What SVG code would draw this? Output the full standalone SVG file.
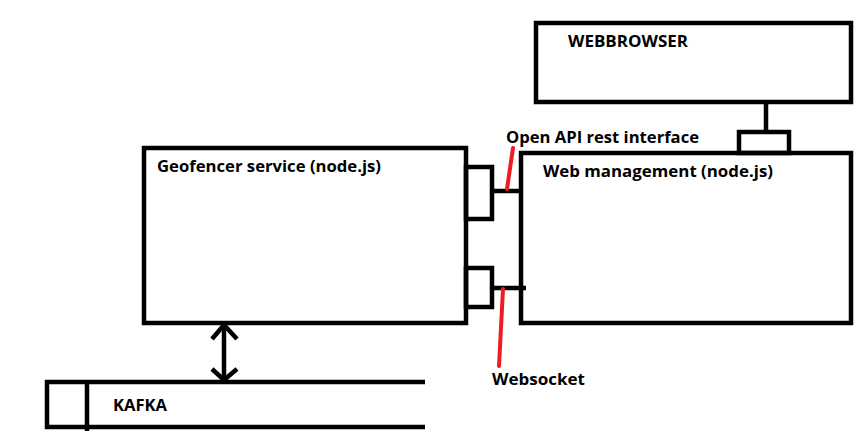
<svg xmlns="http://www.w3.org/2000/svg" width="866" height="447" viewBox="0 0 866 447">
<style>
.box{fill:none;stroke:#000;stroke-width:4.5}
.ln{fill:none;stroke:#000;stroke-width:4.5;stroke-linecap:butt}
.red{fill:none;stroke:#ed1c24;stroke-width:4;stroke-linecap:round}
text{font-family:"Open Sans","Liberation Sans",sans-serif;font-weight:bold;font-size:16.5px;fill:#000}
</style>
<rect width="866" height="447" fill="#fff"/>
<g id="webbrowser">
<rect class="box" x="536" y="23" width="315" height="79"/>
<text x="568" y="47" textLength="120" lengthAdjust="spacingAndGlyphs">WEBBROWSER</text>
</g>
<g id="geofencer">
<rect class="box" x="144" y="148" width="322" height="175"/>
<text x="157" y="172" textLength="224" lengthAdjust="spacingAndGlyphs">Geofencer service (node.js)</text>
<rect class="box" x="466" y="167" width="26" height="52"/>
<rect class="box" x="466" y="268" width="26" height="39"/>
</g>
<g id="webmanagement">
<rect class="box" x="521" y="153" width="330" height="170"/>
<text x="543" y="177" textLength="230" lengthAdjust="spacingAndGlyphs">Web management (node.js)</text>
<rect class="box" x="739" y="132" width="50" height="21"/>
</g>
<g id="kafka">
<path class="ln" d="M425 382H47V427H425"/>
<path class="ln" d="M87 382V431"/>
<text x="113" y="411" textLength="54" lengthAdjust="spacingAndGlyphs">KAFKA</text>
</g>
<g id="connectors">
<path class="ln" d="M766 101V132"/>
<path class="ln" d="M492 191H521"/>
<path class="ln" d="M492 288H526"/>
<path class="ln" d="M224 323V380"/>
<path class="ln" stroke-linejoin="miter" d="M212 339L224 325L237 339"/>
<path class="ln" d="M212 369L224 380L237 369"/>
<path class="red" d="M507 189L513 148"/>
<path class="red" d="M503 289L499 366"/>
</g>
<g id="labels">
<text x="506" y="143" textLength="193" lengthAdjust="spacingAndGlyphs">Open API rest interface</text>
<text x="492" y="385" textLength="93" lengthAdjust="spacingAndGlyphs">Websocket</text>
</g>
</svg>
